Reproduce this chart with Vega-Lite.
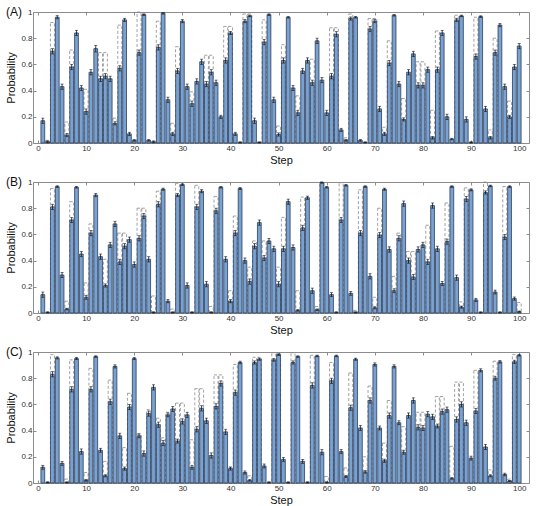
{
"$schema":"https://vega.github.io/schema/vega-lite/v6.json",
"background":"white",
"spacing":9,
"config":{
 "view":{"stroke":"#8c8c8c","strokeWidth":1},
 "font":"Liberation Sans",
 "axis":{"grid":false,"domain":false,"tickColor":"#8c8c8c","tickSize":-3,"labelFontSize":8,"labelColor":"#333","titleFontSize":11,"titleFontWeight":"normal","titleColor":"#111","labelFont":"Liberation Sans","titleFont":"Liberation Sans"},
 "title":{"fontSize":12,"fontWeight":"normal","font":"Liberation Sans","color":"#111"}
},
"datasets":{
"A":[{"s":1,"p":0.17,"e":0.02},{"s":2,"p":0.01,"d":0.02,"e":0.006},{"s":3,"p":0.70,"d":0.92,"e":0.02},{"s":4,"p":0.96,"e":0.012},{"s":5,"p":0.43,"e":0.02},{"s":6,"p":0.06,"d":0.16,"e":0.012},{"s":7,"p":0.58,"d":0.71,"e":0.02},{"s":8,"p":0.84,"e":0.02},{"s":9,"p":0.42,"e":0.02},{"s":10,"p":0.24,"d":0.41,"e":0.02},
{"s":11,"p":0.54,"e":0.02},{"s":12,"p":0.72,"e":0.025},{"s":13,"p":0.49,"d":0.69,"e":0.02},{"s":14,"p":0.51,"d":0.69,"e":0.02},{"s":15,"p":0.49,"e":0.02},{"s":16,"p":0.15,"d":0.19,"e":0.012},{"s":17,"p":0.57,"d":0.90,"e":0.02},{"s":18,"p":0.94,"e":0.012},{"s":19,"p":0.07,"e":0.012},{"s":20,"p":0.02,"e":0.006},
{"s":21,"p":0.69,"d":1.0,"e":0.02},{"s":22,"p":0.98,"e":0.006},{"s":23,"p":0.02,"e":0.006},{"s":24,"p":0.01,"e":0.006},{"s":25,"p":0.73,"d":0.93,"e":0.02},{"s":26,"p":0.99,"e":0.006},{"s":27,"p":0.33,"e":0.02},{"s":28,"p":0.07,"d":0.15,"e":0.012},{"s":29,"p":0.55,"d":0.735,"e":0.02},{"s":30,"p":0.93,"e":0.012},
{"s":31,"p":0.43,"e":0.02},{"s":32,"p":0.30,"d":0.39,"e":0.02},{"s":33,"p":0.47,"e":0.02},{"s":34,"p":0.62,"e":0.02},{"s":35,"p":0.45,"d":0.67,"e":0.02},{"s":36,"p":0.54,"d":0.67,"e":0.02},{"s":37,"p":0.46,"e":0.02},{"s":38,"p":0.20,"e":0.012},{"s":39,"p":0.63,"d":0.89,"e":0.02},{"s":40,"p":0.84,"d":0.89,"e":0.012},
{"s":41,"p":0.07,"e":0.012},{"s":42,"p":0.005,"e":0.004},{"s":43,"p":0.93,"d":0.985,"e":0.012},{"s":44,"p":0.97,"d":0.985,"e":0.006},{"s":45,"p":0.17,"e":0.02},{"s":46,"p":0.005,"e":0.004},{"s":47,"p":0.77,"d":0.94,"e":0.02},{"s":48,"p":0.98,"e":0.006},{"s":49,"p":0.33,"e":0.02},{"s":50,"p":0.065,"d":0.13,"e":0.012},
{"s":51,"p":0.63,"d":0.75,"e":0.02},{"s":52,"p":0.96,"e":0.006},{"s":53,"p":0.42,"e":0.02},{"s":54,"p":0.23,"d":0.36,"e":0.02},{"s":55,"p":0.55,"e":0.02},{"s":56,"p":0.63,"e":0.02},{"s":57,"p":0.46,"d":0.64,"e":0.02},{"s":58,"p":0.78,"e":0.02},{"s":59,"p":0.48,"e":0.02},{"s":60,"p":0.23,"e":0.02},
{"s":61,"p":0.51,"d":0.88,"e":0.02},{"s":62,"p":0.83,"d":0.88,"e":0.02},{"s":63,"p":0.10,"e":0.012},{"s":64,"p":0.02,"d":0.04,"e":0.006},{"s":65,"p":0.95,"d":0.985,"e":0.012},{"s":66,"p":0.96,"e":0.006},{"s":67,"p":0.02,"e":0.006},{"s":68,"p":0.005,"e":0.004},{"s":69,"p":0.87,"d":0.95,"e":0.02},{"s":70,"p":0.93,"d":0.95,"e":0.012},
{"s":71,"p":0.26,"e":0.02},{"s":72,"p":0.07,"d":0.12,"e":0.012},{"s":73,"p":0.61,"d":0.78,"e":0.02},{"s":74,"p":0.975,"e":0.006},{"s":75,"p":0.45,"e":0.02},{"s":76,"p":0.18,"d":0.34,"e":0.012},{"s":77,"p":0.54,"e":0.02},{"s":78,"p":0.68,"e":0.02},{"s":79,"p":0.44,"d":0.62,"e":0.02},{"s":80,"p":0.44,"d":0.62,"e":0.02},
{"s":81,"p":0.56,"e":0.02},{"s":82,"p":0.04,"d":0.25,"e":0.01},{"s":83,"p":0.56,"d":0.855,"e":0.02},{"s":84,"p":0.84,"e":0.02},{"s":85,"p":0.20,"e":0.02},{"s":86,"p":0.03,"e":0.006},{"s":87,"p":0.94,"d":0.975,"e":0.012},{"s":88,"p":0.97,"e":0.006},{"s":89,"p":0.18,"e":0.02},{"s":90,"p":0.005,"e":0.004},
{"s":91,"p":0.66,"d":0.96,"e":0.02},{"s":92,"p":0.965,"e":0.006},{"s":93,"p":0.26,"e":0.02},{"s":94,"p":0.04,"d":0.10,"e":0.01},{"s":95,"p":0.69,"d":0.80,"e":0.02},{"s":96,"p":0.90,"e":0.012},{"s":97,"p":0.43,"e":0.02},{"s":98,"p":0.20,"d":0.32,"e":0.012},{"s":99,"p":0.58,"e":0.02},{"s":100,"p":0.74,"e":0.02}],
"B":[{"s":1,"p":0.14,"e":0.02},{"s":2,"p":0.005,"e":0.004},{"s":3,"p":0.81,"d":0.95,"e":0.02},{"s":4,"p":0.965,"e":0.006},{"s":5,"p":0.29,"e":0.02},{"s":6,"p":0.03,"d":0.09,"e":0.006},{"s":7,"p":0.71,"d":0.85,"e":0.02},{"s":8,"p":0.96,"e":0.006},{"s":9,"p":0.45,"e":0.02},{"s":10,"p":0.12,"d":0.23,"e":0.015},
{"s":11,"p":0.61,"d":0.68,"e":0.02},{"s":12,"p":0.90,"e":0.012},{"s":13,"p":0.43,"e":0.02},{"s":14,"p":0.21,"d":0.41,"e":0.012},{"s":15,"p":0.52,"e":0.02},{"s":16,"p":0.68,"e":0.02},{"s":17,"p":0.39,"d":0.61,"e":0.02},{"s":18,"p":0.51,"d":0.61,"e":0.02},{"s":19,"p":0.56,"e":0.02},{"s":20,"p":0.37,"e":0.02},
{"s":21,"p":0.57,"d":0.80,"e":0.02},{"s":22,"p":0.74,"d":0.80,"e":0.02},{"s":23,"p":0.41,"e":0.02},{"s":24,"p":0.005,"d":0.13,"e":0.004},{"s":25,"p":0.83,"d":0.93,"e":0.02},{"s":26,"p":0.945,"e":0.008},{"s":27,"p":0.09,"e":0.012},{"s":28,"p":0.005,"d":0.03,"e":0.004},{"s":29,"p":0.90,"d":0.99,"e":0.012},{"s":30,"p":0.98,"e":0.006},
{"s":31,"p":0.21,"e":0.02},{"s":32,"p":0.005,"e":0.004},{"s":33,"p":0.81,"d":0.975,"e":0.02},{"s":34,"p":0.93,"e":0.012},{"s":35,"p":0.22,"e":0.02},{"s":36,"p":0.005,"d":0.05,"e":0.004},{"s":37,"p":0.78,"d":0.89,"e":0.02},{"s":38,"p":0.96,"e":0.006},{"s":39,"p":0.41,"e":0.02},{"s":40,"p":0.09,"d":0.17,"e":0.012},
{"s":41,"p":0.61,"d":0.74,"e":0.02},{"s":42,"p":0.95,"e":0.008},{"s":43,"p":0.40,"e":0.02},{"s":44,"p":0.24,"d":0.35,"e":0.02},{"s":45,"p":0.51,"d":0.55,"e":0.02},{"s":46,"p":0.69,"e":0.02},{"s":47,"p":0.42,"d":0.55,"e":0.02},{"s":48,"p":0.55,"e":0.02},{"s":49,"p":0.49,"e":0.02},{"s":50,"p":0.22,"d":0.35,"e":0.02},
{"s":51,"p":0.49,"d":0.73,"e":0.02},{"s":52,"p":0.85,"e":0.02},{"s":53,"p":0.50,"e":0.02},{"s":54,"p":0.02,"d":0.17,"e":0.006},{"s":55,"p":0.65,"d":0.885,"e":0.02},{"s":56,"p":0.88,"e":0.012},{"s":57,"p":0.17,"e":0.02},{"s":58,"p":0.025,"d":0.05,"e":0.006},{"s":59,"p":0.995,"d":1.0,"e":0.004},{"s":60,"p":0.96,"e":0.006},
{"s":61,"p":0.14,"e":0.015},{"s":62,"p":0.005,"e":0.004},{"s":63,"p":0.71,"d":0.995,"e":0.02},{"s":64,"p":0.975,"e":0.006},{"s":65,"p":0.15,"e":0.015},{"s":66,"p":0.005,"d":0.02,"e":0.004},{"s":67,"p":0.61,"d":0.94,"e":0.02},{"s":68,"p":0.965,"e":0.006},{"s":69,"p":0.28,"e":0.02},{"s":70,"p":0.04,"d":0.12,"e":0.008},
{"s":71,"p":0.595,"d":0.80,"e":0.02},{"s":72,"p":0.945,"e":0.008},{"s":73,"p":0.485,"e":0.02},{"s":74,"p":0.17,"d":0.28,"e":0.015},{"s":75,"p":0.57,"d":0.61,"e":0.02},{"s":76,"p":0.835,"e":0.02},{"s":77,"p":0.40,"d":0.47,"e":0.02},{"s":78,"p":0.275,"d":0.47,"e":0.02},{"s":79,"p":0.485,"e":0.02},{"s":80,"p":0.52,"e":0.02},
{"s":81,"p":0.39,"d":0.67,"e":0.02},{"s":82,"p":0.82,"e":0.02},{"s":83,"p":0.49,"e":0.02},{"s":84,"p":0.225,"e":0.015},{"s":85,"p":0.545,"d":0.84,"e":0.02},{"s":86,"p":0.965,"e":0.006},{"s":87,"p":0.27,"e":0.02},{"s":88,"p":0.045,"d":0.085,"e":0.008},{"s":89,"p":0.87,"d":0.955,"e":0.02},{"s":90,"p":0.94,"e":0.008},
{"s":91,"p":0.10,"e":0.012},{"s":92,"p":0.005,"e":0.004},{"s":93,"p":0.92,"d":1.0,"e":0.012},{"s":94,"p":0.97,"e":0.006},{"s":95,"p":0.16,"e":0.015},{"s":96,"p":0.005,"e":0.004},{"s":97,"p":0.58,"d":0.965,"e":0.02},{"s":98,"p":0.965,"e":0.006},{"s":99,"p":0.11,"e":0.012},{"s":100,"p":0.01,"d":0.08,"e":0.004}],
"C":[{"s":1,"p":0.12,"e":0.015},{"s":2,"p":0.005,"e":0.004},{"s":3,"p":0.83,"d":0.98,"e":0.02},{"s":4,"p":0.955,"e":0.008},{"s":5,"p":0.15,"e":0.015},{"s":6,"p":0.005,"d":0.03,"e":0.004},{"s":7,"p":0.715,"d":0.94,"e":0.02},{"s":8,"p":0.95,"e":0.008},{"s":9,"p":0.24,"e":0.02},{"s":10,"p":0.02,"d":0.08,"e":0.006},
{"s":11,"p":0.715,"d":0.875,"e":0.02},{"s":12,"p":0.965,"e":0.006},{"s":13,"p":0.25,"e":0.015},{"s":14,"p":0.055,"d":0.165,"e":0.008},{"s":15,"p":0.62,"d":0.785,"e":0.02},{"s":16,"p":0.89,"e":0.012},{"s":17,"p":0.36,"e":0.02},{"s":18,"p":0.11,"d":0.27,"e":0.012},{"s":19,"p":0.58,"d":0.685,"e":0.02},{"s":20,"p":0.95,"e":0.008},
{"s":21,"p":0.36,"d":0.375,"e":0.015},{"s":22,"p":0.225,"e":0.02},{"s":23,"p":0.53,"d":0.56,"e":0.02},{"s":24,"p":0.73,"e":0.02},{"s":25,"p":0.445,"d":0.495,"e":0.02},{"s":26,"p":0.305,"d":0.345,"e":0.02},{"s":27,"p":0.52,"d":0.54,"e":0.015},{"s":28,"p":0.565,"e":0.02},{"s":29,"p":0.32,"d":0.61,"e":0.015},{"s":30,"p":0.47,"d":0.61,"e":0.02},
{"s":31,"p":0.52,"e":0.02},{"s":32,"p":0.12,"d":0.33,"e":0.015},{"s":33,"p":0.41,"d":0.72,"e":0.02},{"s":34,"p":0.57,"d":0.72,"e":0.02},{"s":35,"p":0.475,"e":0.02},{"s":36,"p":0.21,"e":0.02},{"s":37,"p":0.585,"d":0.825,"e":0.02},{"s":38,"p":0.76,"d":0.825,"e":0.02},{"s":39,"p":0.39,"e":0.02},{"s":40,"p":0.11,"d":0.12,"e":0.012},
{"s":41,"p":0.69,"d":0.905,"e":0.02},{"s":42,"p":0.92,"e":0.01},{"s":43,"p":0.08,"e":0.012},{"s":44,"p":0.02,"d":0.055,"e":0.006},{"s":45,"p":0.92,"d":0.96,"e":0.012},{"s":46,"p":0.945,"d":0.96,"e":0.008},{"s":47,"p":0.13,"e":0.015},{"s":48,"p":0.005,"e":0.004},{"s":49,"p":0.94,"d":0.995,"e":0.01},{"s":50,"p":0.98,"d":0.995,"e":0.006},
{"s":51,"p":0.18,"e":0.015},{"s":52,"p":0.005,"e":0.004},{"s":53,"p":0.92,"d":0.995,"e":0.012},{"s":54,"p":0.965,"e":0.006},{"s":55,"p":0.165,"e":0.015},{"s":56,"p":0.005,"e":0.004},{"s":57,"p":0.745,"d":0.975,"e":0.02},{"s":58,"p":0.97,"e":0.006},{"s":59,"p":0.235,"e":0.02},{"s":60,"p":0.005,"d":0.05,"e":0.004},
{"s":61,"p":0.78,"d":0.92,"e":0.02},{"s":62,"p":0.97,"e":0.006},{"s":63,"p":0.24,"e":0.015},{"s":64,"p":0.05,"d":0.115,"e":0.008},{"s":65,"p":0.575,"d":0.84,"e":0.02},{"s":66,"p":0.945,"e":0.008},{"s":67,"p":0.42,"e":0.02},{"s":68,"p":0.085,"d":0.20,"e":0.01},{"s":69,"p":0.63,"d":0.74,"e":0.02},{"s":70,"p":0.905,"e":0.012},
{"s":71,"p":0.42,"e":0.015},{"s":72,"p":0.17,"d":0.305,"e":0.012},{"s":73,"p":0.515,"d":0.63,"e":0.02},{"s":74,"p":0.89,"e":0.012},{"s":75,"p":0.46,"e":0.015},{"s":76,"p":0.235,"d":0.43,"e":0.015},{"s":77,"p":0.515,"e":0.02},{"s":78,"p":0.63,"e":0.02},{"s":79,"p":0.425,"d":0.54,"e":0.02},{"s":80,"p":0.42,"d":0.54,"e":0.02},
{"s":81,"p":0.525,"e":0.02},{"s":82,"p":0.505,"e":0.02},{"s":83,"p":0.435,"d":0.66,"e":0.015},{"s":84,"p":0.545,"d":0.66,"e":0.02},{"s":85,"p":0.56,"e":0.02},{"s":86,"p":0.035,"d":0.28,"e":0.006},{"s":87,"p":0.485,"d":0.77,"e":0.02},{"s":88,"p":0.60,"d":0.77,"e":0.02},{"s":89,"p":0.46,"e":0.02},{"s":90,"p":0.19,"e":0.015},
{"s":91,"p":0.55,"d":0.86,"e":0.02},{"s":92,"p":0.86,"e":0.012},{"s":93,"p":0.275,"e":0.02},{"s":94,"p":0.055,"d":0.10,"e":0.008},{"s":95,"p":0.80,"d":0.93,"e":0.015},{"s":96,"p":0.925,"e":0.01},{"s":97,"p":0.065,"e":0.01},{"s":98,"p":0.015,"d":0.03,"e":0.004},{"s":99,"p":0.925,"d":0.98,"e":0.012},{"s":100,"p":0.975,"e":0.006}]
},
"vconcat":[
{"title":{"text":"(A)","anchor":"start","frame":"bounds","offset":-16,"baseline":"middle"},
 "width":496,"height":131,"data":{"name":"A"},
 "layer":[
  {"mark":{"type":"bar","width":4,"fillOpacity":0,"stroke":"#8a8a8a","strokeDash":[3,2],"strokeWidth":0.8},
   "encoding":{"x":{"field":"s","type":"quantitative","scale":{"domain":[0,101],"nice":false},"axis":{"orient":"top","values":[0,10,20,30,40,50,60,70,80,90,100],"labels":false,"title":null}},
    "y":{"field":"d","type":"quantitative","scale":{"domain":[0,1],"nice":false},"axis":{"orient":"right","values":[0,0.2,0.4,0.6,0.8,1],"labels":false,"title":null}}}},
  {"mark":{"type":"bar","width":3.8,"fill":"#7aa2d1","stroke":"#2c3d5b","strokeWidth":0.8},
   "encoding":{"x":{"field":"s","type":"quantitative","axis":{"orient":"bottom","values":[0,10,20,30,40,50,60,70,80,90,100],"title":"Step","labelPadding":4,"titlePadding":2}},
    "y":{"field":"p","type":"quantitative","axis":{"orient":"left","values":[0,0.2,0.4,0.6,0.8,1],"format":"~g","title":"Probability","labelPadding":4,"titlePadding":4}}}},
  {"mark":{"type":"errorbar","ticks":{"size":3},"color":"#111","thickness":0.8},
   "encoding":{"x":{"field":"s","type":"quantitative","axis":null},"y":{"field":"p","type":"quantitative","axis":null},"yError":{"field":"e"}}}
 ]},
{"title":{"text":"(B)","anchor":"start","frame":"bounds","offset":-16,"baseline":"middle"},
 "width":496,"height":131,"data":{"name":"B"},
 "layer":[
  {"mark":{"type":"bar","width":4,"fillOpacity":0,"stroke":"#8a8a8a","strokeDash":[3,2],"strokeWidth":0.8},
   "encoding":{"x":{"field":"s","type":"quantitative","scale":{"domain":[0,101],"nice":false},"axis":{"orient":"top","values":[0,10,20,30,40,50,60,70,80,90,100],"labels":false,"title":null}},
    "y":{"field":"d","type":"quantitative","scale":{"domain":[0,1],"nice":false},"axis":{"orient":"right","values":[0,0.2,0.4,0.6,0.8,1],"labels":false,"title":null}}}},
  {"mark":{"type":"bar","width":3.8,"fill":"#7aa2d1","stroke":"#2c3d5b","strokeWidth":0.8},
   "encoding":{"x":{"field":"s","type":"quantitative","axis":{"orient":"bottom","values":[0,10,20,30,40,50,60,70,80,90,100],"title":"Step","labelPadding":4,"titlePadding":2}},
    "y":{"field":"p","type":"quantitative","axis":{"orient":"left","values":[0,0.2,0.4,0.6,0.8,1],"format":"~g","title":"Probability","labelPadding":4,"titlePadding":4}}}},
  {"mark":{"type":"errorbar","ticks":{"size":3},"color":"#111","thickness":0.8},
   "encoding":{"x":{"field":"s","type":"quantitative","axis":null},"y":{"field":"p","type":"quantitative","axis":null},"yError":{"field":"e"}}}
 ]},
{"title":{"text":"(C)","anchor":"start","frame":"bounds","offset":-16,"baseline":"middle"},
 "width":496,"height":131,"data":{"name":"C"},
 "layer":[
  {"mark":{"type":"bar","width":4,"fillOpacity":0,"stroke":"#8a8a8a","strokeDash":[3,2],"strokeWidth":0.8},
   "encoding":{"x":{"field":"s","type":"quantitative","scale":{"domain":[0,101],"nice":false},"axis":{"orient":"top","values":[0,10,20,30,40,50,60,70,80,90,100],"labels":false,"title":null}},
    "y":{"field":"d","type":"quantitative","scale":{"domain":[0,1],"nice":false},"axis":{"orient":"right","values":[0,0.2,0.4,0.6,0.8,1],"labels":false,"title":null}}}},
  {"mark":{"type":"bar","width":3.8,"fill":"#7aa2d1","stroke":"#2c3d5b","strokeWidth":0.8},
   "encoding":{"x":{"field":"s","type":"quantitative","axis":{"orient":"bottom","values":[0,10,20,30,40,50,60,70,80,90,100],"title":"Step","labelPadding":4,"titlePadding":2}},
    "y":{"field":"p","type":"quantitative","axis":{"orient":"left","values":[0,0.2,0.4,0.6,0.8,1],"format":"~g","title":"Probability","labelPadding":4,"titlePadding":4}}}},
  {"mark":{"type":"errorbar","ticks":{"size":3},"color":"#111","thickness":0.8},
   "encoding":{"x":{"field":"s","type":"quantitative","axis":null},"y":{"field":"p","type":"quantitative","axis":null},"yError":{"field":"e"}}}
 ]}
]
}
